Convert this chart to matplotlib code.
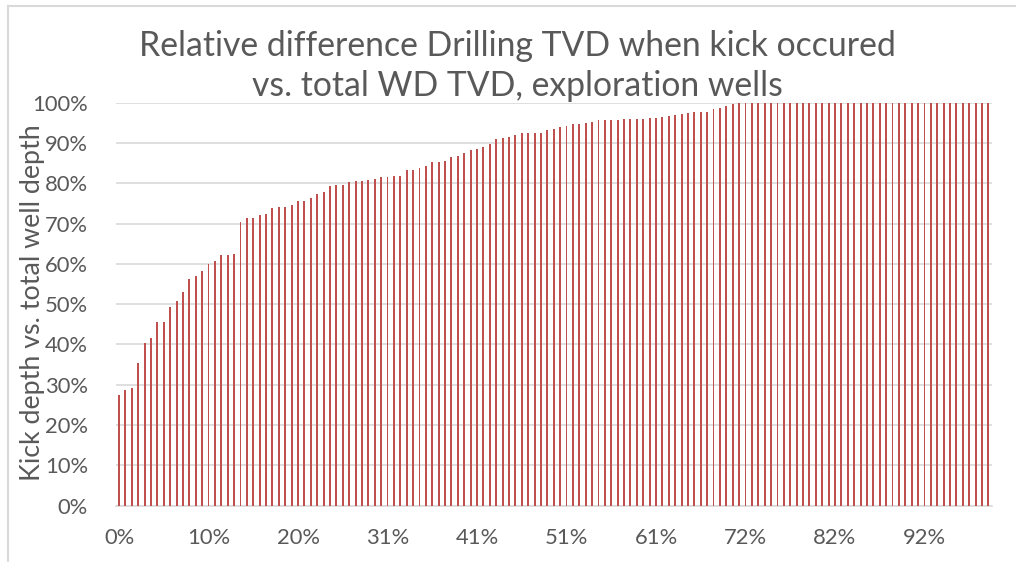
import matplotlib
matplotlib.use("Agg")
import matplotlib.pyplot as plt
from matplotlib.lines import Line2D
from matplotlib.ticker import FuncFormatter

# kick depth relative to total well depth, sorted (%)
kick_pct = [27.5, 28.8, 29.3, 35.3, 40.4, 41.6, 45.5, 45.5, 49.2, 50.9,
            53.0, 56.2, 57.1, 58.2, 60.0, 60.7, 62.1, 62.1, 62.5, 70.4,
            71.3, 71.5, 72.1, 72.4, 73.9, 74.1, 74.1, 74.7, 75.5, 75.5,
            76.4, 77.3, 77.9, 79.3, 79.5, 79.6, 80.2, 80.5, 80.6, 80.8,
            81.0, 81.5, 81.6, 81.7, 81.8, 83.2, 83.4, 83.9, 84.3, 85.4,
            85.4, 85.5, 86.4, 86.8, 87.5, 88.2, 88.5, 89.1, 89.8, 91.0,
            91.2, 91.4, 92.0, 92.4, 92.5, 92.6, 92.6, 93.2, 93.5, 94.0,
            94.1, 94.7, 94.7, 94.9, 95.2, 95.6, 95.7, 95.8, 95.8, 96.0,
            96.0, 96.0, 96.0, 96.1, 96.3, 96.4, 96.6, 97.0, 97.2, 97.4,
            97.6, 97.6, 97.7, 98.4, 98.7, 99.2, 99.6, 100, 100, 100,
            100, 100, 100, 100, 100, 100, 100, 100, 100, 100,
            100, 100, 100, 100, 100, 100, 100, 100, 100, 100,
            100, 100, 100, 100, 100, 100, 100, 100, 100, 100,
            100, 100, 100, 100, 100, 100, 100]
x_labels = ["0%", "10%", "20%", "31%", "41%", "51%", "61%", "72%", "82%", "92%"]
y_ticks = [0, 10, 20, 30, 40, 50, 60, 70, 80, 90, 100]

gris = "#595959"
linea = "#D9D9D9"
rojo = "#C0504D"
fuente = ["Lato", "DejaVu Sans"]
plt.rcParams["font.family"] = fuente

fig = plt.figure(figsize=(10.16, 5.62), dpi=100)
ax = fig.add_axes([0.114, 0.1002, 0.862, 0.7171])

pos = list(range(len(kick_pct)))
ax.bar(pos, kick_pct, width=0.3, color=rojo, zorder=3)

ax.set_xlim(-0.5, len(kick_pct) - 0.5)
ax.set_ylim(0, 100)
ax.set_yticks(y_ticks)
ax.yaxis.set_major_formatter(FuncFormatter(lambda v, p: "%d%%" % v))
ax.set_xticks(pos[::14])
ax.set_xticklabels(x_labels)
ax.tick_params(axis="both", length=0, labelsize=15.8, colors=gris)
ax.tick_params(axis="y", pad=20)
ax.tick_params(axis="x", pad=16)

ax.grid(True, axis="y", color=linea, linewidth=1.2, zorder=0)
for s in ["top", "right", "left"]:
    ax.spines[s].set_visible(False)
ax.spines["bottom"].set_color(linea)
ax.spines["bottom"].set_linewidth(1.2)

ax.set_ylabel("Kick depth vs. total well depth", fontsize=19.3, color=gris)
ax.yaxis.set_label_coords(-0.081, 0.503)
fig.text(0.509, 0.918, "Relative difference Drilling TVD when kick occured",
         ha="center", va="center", fontsize=24.3, color=gris)
fig.text(0.509, 0.847, "vs. total WD TVD, exploration wells",
         ha="center", va="center", fontsize=24.3, color=gris)

# marco del grafico
fig.add_artist(Line2D([8 / 1016, 1.0], [1 - 6 / 562, 1 - 6 / 562], transform=fig.transFigure,
                      color=linea, linewidth=1.5))
fig.add_artist(Line2D([8 / 1016, 8 / 1016], [0, 1 - 6 / 562], transform=fig.transFigure,
                      color=linea, linewidth=1.5))

fig.savefig("out.png", dpi=100)
